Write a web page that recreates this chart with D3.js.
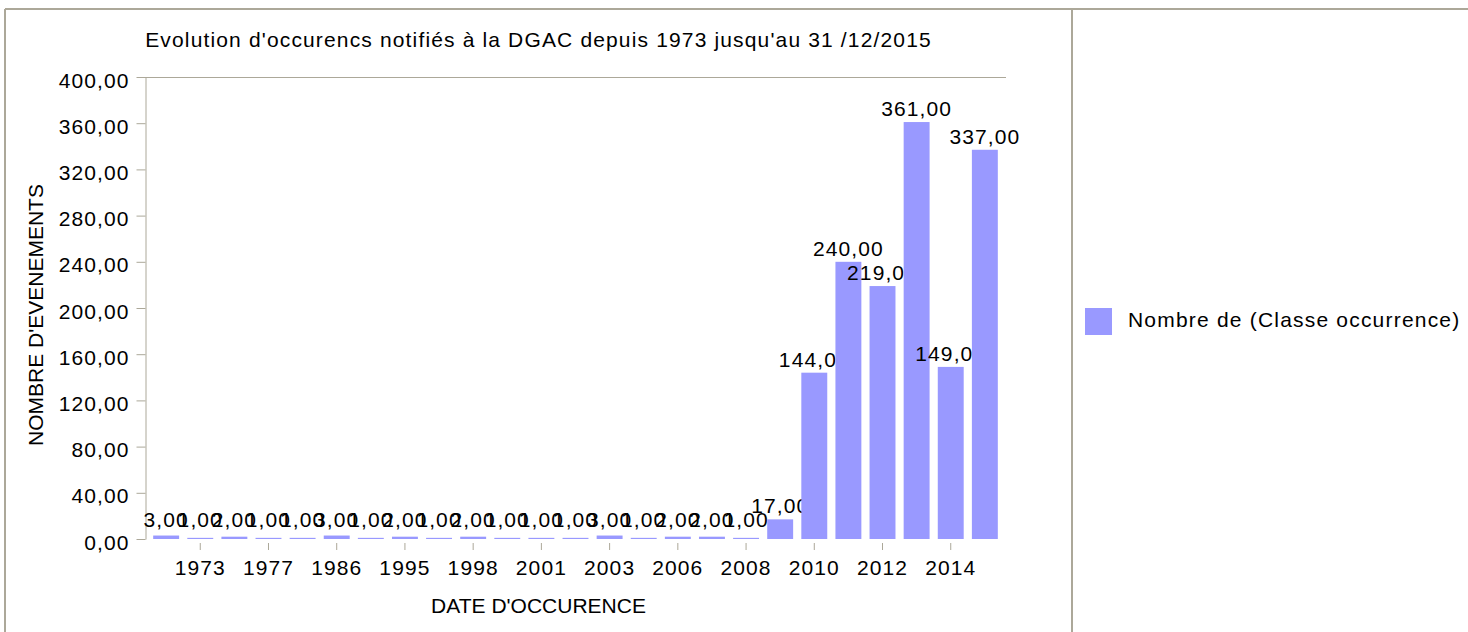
<!DOCTYPE html>
<html lang="fr">
<head>
    <meta charset="UTF-8">
    <title>Evolution d'occurences DGAC</title>
    <style>
        body {
            margin: 0;
            background: #fff;
        }
        text {
            font-family: "Liberation Sans", Arial, sans-serif;
            font-size: 21px;
            fill: #000;
        }
    </style>
    <script src="https://cdn.jsdelivr.net/npm/d3@7"></script>
</head>
<body>
    <script>
        // Data
        const years = [1972, 1973, 1975, 1977, 1980, 1986, 1990, 1995, 1997, 1998, 2000, 2001, 2002,
                       2003, 2005, 2006, 2007, 2008, 2009, 2010, 2011, 2012, 2013, 2014, 2015];
        const counts = [3, 1, 2, 1, 1, 3, 1, 2, 1, 2, 1, 1, 1,
                        3, 1, 2, 2, 1, 17, 144, 240, 219, 361, 149, 337];
        const yTicks = [0, 40, 80, 120, 160, 200, 240, 280, 320, 360, 400];
        const seriesName = "Nombre de (Classe occurrence)";

        const width = 1468;
        const height = 632;
        const frameColor = "#aca899";
        const barColor = "#9999ff";

        // French number format: 400,00
        const fr = d3.formatLocale({decimal: ",", thousands: " ", grouping: [3], currency: ["", " €"]});
        const fmt = fr.format(".2f");

        const svg = d3.select("body").append("svg")
            .attr("width", width)
            .attr("height", height);

        // Frame around chart panel and legend panel
        svg.append("line").attr("x1", 5).attr("x2", width).attr("y1", 9).attr("y2", 9)
            .attr("stroke", frameColor).attr("stroke-width", 2);
        svg.append("line").attr("x1", 5).attr("x2", 5).attr("y1", 9).attr("y2", height)
            .attr("stroke", frameColor).attr("stroke-width", 2);
        svg.append("line").attr("x1", 1072).attr("x2", 1072).attr("y1", 9).attr("y2", height)
            .attr("stroke", frameColor).attr("stroke-width", 2);

        // Plot area
        const plotLeft = 145, plotRight = 1006, plotTop = 77, plotBottom = 539;

        const x = d3.scaleBand()
            .domain(d3.range(years.length))
            .range([plotLeft, plotRight])
            .paddingInner(0.24)
            .paddingOuter(0.24);

        const y = d3.scaleLinear()
            .domain([0, 400])
            .range([plotBottom, plotTop]);

        // top border of plot
        svg.append("line").attr("x1", plotLeft).attr("x2", plotRight)
            .attr("y1", plotTop + 0.5).attr("y2", plotTop + 0.5)
            .attr("stroke", frameColor);

        // Y axis
        const yAxis = svg.append("g")
            .attr("transform", `translate(${plotLeft + 0.5},0)`)
            .call(d3.axisLeft(y).tickValues(yTicks).tickFormat(fmt).tickSize(9).tickSizeOuter(0).tickPadding(7));
        yAxis.select(".domain").attr("stroke", frameColor);
        yAxis.selectAll(".tick line").attr("stroke", frameColor);
        yAxis.selectAll(".tick text")
            .attr("dy", "0.48em")
            .style("letter-spacing", "1.1px");
        yAxis.attr("font-family", null).attr("font-size", null);

        // X axis, a label on every other bar
        const xAxis = svg.append("g")
            .attr("transform", `translate(0,${plotBottom + 4})`)
            .call(d3.axisBottom(x)
                .tickValues(d3.range(1, years.length, 2))
                .tickFormat(i => years[i])
                .tickSize(7).tickSizeOuter(0).tickPadding(10));
        xAxis.select(".domain").remove();
        xAxis.selectAll(".tick line").attr("stroke", frameColor);
        xAxis.selectAll(".tick text").style("letter-spacing", "1.1px");
        xAxis.attr("font-family", null).attr("font-size", null);

        // Bars, each followed by its label so the next bar overlaps it
        const bars = svg.selectAll("g.bar")
            .data(counts)
            .join("g")
            .attr("class", "bar");

        bars.append("rect")
            .attr("x", (d, i) => x(i))
            .attr("y", d => y(d))
            .attr("width", x.bandwidth())
            .attr("height", d => Math.max(1, y(0) - y(d)))
            .attr("fill", barColor);

        bars.append("text")
            .attr("x", (d, i) => x(i) + x.bandwidth() / 2)
            .attr("y", d => Math.min(y(d) - 6, y(0) - 12))
            .attr("text-anchor", "middle")
            .style("letter-spacing", "1.1px")
            .text(d => fmt(d));

        // Titles
        svg.append("text")
            .attr("x", 538.5)
            .attr("y", 47)
            .attr("text-anchor", "middle")
            .style("letter-spacing", "1.15px")
            .text("Evolution d'occurencs notifiés à la DGAC depuis 1973 jusqu'au 31 /12/2015");

        svg.append("text")
            .attr("x", 538.5)
            .attr("y", 613)
            .attr("text-anchor", "middle")
            .text("DATE D'OCCURENCE");

        svg.append("text")
            .attr("transform", `translate(43,${(plotTop + plotBottom) / 2 + 7}) rotate(-90)`)
            .attr("text-anchor", "middle")
            .text("NOMBRE D'EVENEMENTS");

        // Legend
        const legend = svg.append("g").attr("transform", "translate(1085,308)");
        legend.append("rect")
            .attr("width", 27)
            .attr("height", 27)
            .attr("fill", barColor);
        legend.append("text")
            .attr("x", 43)
            .attr("y", 19)
            .style("letter-spacing", "1.2px")
            .text(seriesName);
    </script>
</body>
</html>
